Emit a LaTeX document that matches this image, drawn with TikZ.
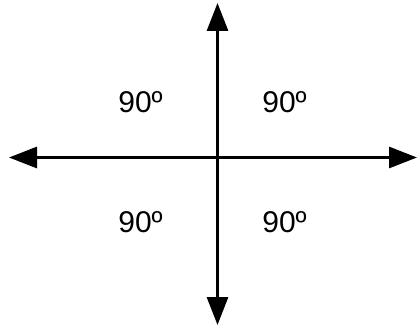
\documentclass[tikz,border=0pt]{standalone}
\usepackage{fontspec}
\setmainfont{Liberation Sans}
\usetikzlibrary{arrows.meta}
\begin{document}
\begin{tikzpicture}[x=1pt,y=-1pt,
  axis/.style={line width=3pt,{Triangle[length=28pt,width=21pt]}-{Triangle[length=28pt,width=21pt]}},
  angle/.style={font=\fontsize{30}{36}\selectfont,inner sep=0pt,anchor=base}]
\useasboundingbox (0,0) rectangle (417,329);
\coordinate (top) at (217.5,3);
\coordinate (bottom) at (217.5,325);
\coordinate (left) at (9,157.5);
\coordinate (right) at (417,157.5);
\draw[axis] (top) -- (bottom);
\draw[axis] (left) -- (right);
\node[angle] (ul) at (140.5,112) {90º};
\node[angle] (ur) at (284.5,112) {90º};
\node[angle] (ll) at (140.5,232) {90º};
\node[angle] (lr) at (284.5,232) {90º};
\end{tikzpicture}
\end{document}
